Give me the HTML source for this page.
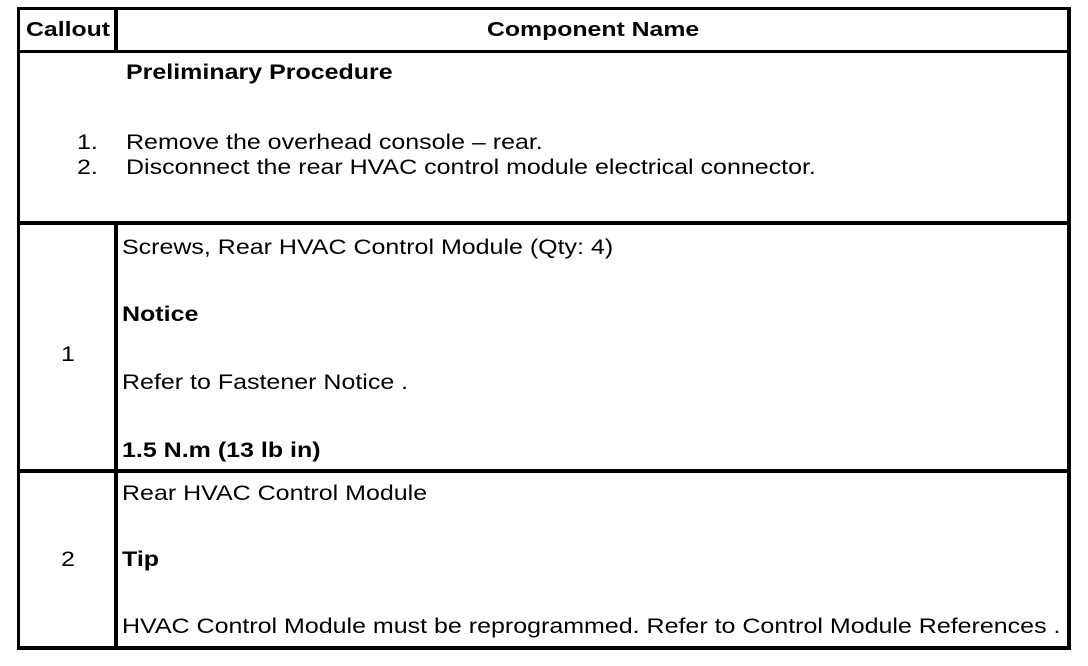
<!DOCTYPE html>
<html><head><meta charset="utf-8"><style>
body{margin:0;width:1088px;height:666px;background:#fff;position:relative;overflow:hidden;font-family:"Liberation Sans",Arial,sans-serif;color:#000}
.l{position:absolute;background:#000}
.t{position:absolute;font-size:21px;line-height:24px;white-space:nowrap;transform:scaleX(1.19);transform-origin:0 0}
.b{font-weight:bold;transform:scaleX(1.19)}
.h{transform:scaleX(1.24)}
</style></head><body>
<div class="l" style="left:17px;top:7px;width:1054px;height:3px"></div>
<div class="l" style="left:17px;top:646px;width:1054px;height:4px"></div>
<div class="l" style="left:17px;top:7px;width:3px;height:643px"></div>
<div class="l" style="left:1067px;top:7px;width:4px;height:643px"></div>
<div class="l" style="left:17px;top:50px;width:1054px;height:3px"></div>
<div class="l" style="left:17px;top:221px;width:1054px;height:4px"></div>
<div class="l" style="left:17px;top:469px;width:1054px;height:4px"></div>
<div class="l" style="left:114px;top:7px;width:4px;height:46px"></div>
<div class="l" style="left:114px;top:221px;width:4px;height:429px"></div>

<div class="t b h" style="left:26px;top:18px;font-size:20px">Callout</div>
<div class="t b h" style="left:487px;top:18px;font-size:20px">Component Name</div>
<div class="t b" style="left:126px;top:61px">Preliminary Procedure</div>
<div class="t" style="left:77px;top:131px">1.</div>
<div class="t" style="left:126px;top:131px">Remove the overhead console – rear.</div>
<div class="t" style="left:77px;top:156px">2.</div>
<div class="t" style="left:126px;top:156px">Disconnect the rear HVAC control module electrical connector.</div>

<div class="t" style="left:61px;top:343px">1</div>
<div class="t" style="left:122px;top:236px">Screws, Rear HVAC Control Module (Qty: 4)</div>
<div class="t b" style="left:122px;top:303px">Notice</div>
<div class="t" style="left:122px;top:371px">Refer to Fastener Notice .</div>
<div class="t b" style="left:122px;top:439px">1.5 N.m (13 lb in)</div>

<div class="t" style="left:61px;top:548px">2</div>
<div class="t" style="left:122px;top:482px">Rear HVAC Control Module</div>
<div class="t b" style="left:122px;top:548px">Tip</div>
<div class="t" style="left:122px;top:615px">HVAC Control Module must be reprogrammed. Refer to Control Module References .</div>
</body></html>
